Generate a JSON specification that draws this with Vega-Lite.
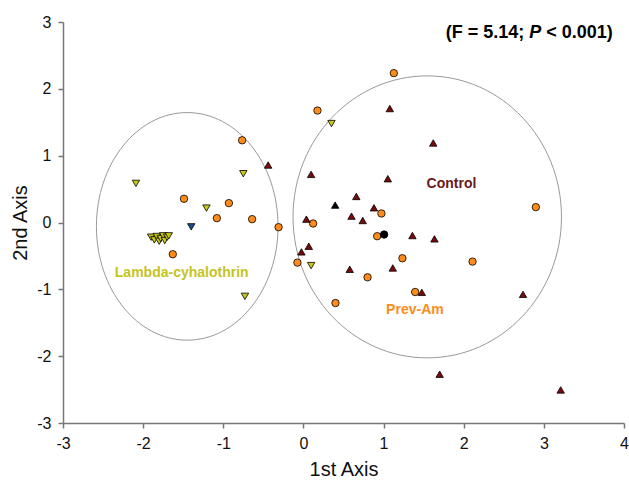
{
  "$schema": "https://vega.github.io/schema/vega-lite/v6.json",
  "width": 561,
  "height": 401,
  "autosize": {"type": "none"},
  "padding": {"left": 63, "top": 22, "right": 5, "bottom": 57},
  "background": "white",
  "config": {
    "view": {"stroke": null},
    "font": "Liberation Sans",
    "axis": {
      "grid": false,
      "domainColor": "#777777",
      "domainWidth": 1.5,
      "tickColor": "#777777",
      "tickWidth": 1.5,
      "tickSize": 5,
      "labelFontSize": 16,
      "labelColor": "#111111",
      "labelFont": "Liberation Sans",
      "titleFont": "Liberation Sans",
      "titleFontSize": 20,
      "titleFontWeight": "normal",
      "titleColor": "#111111",
      "labelPadding": 7,
      "labelExpr": "'' + datum.value"
    }
  },
  "datasets": {
    "points": [
      {"x": -0.765, "y": 1.23, "group": "Prev-Am"},
      {"x": -1.49, "y": 0.355, "group": "Prev-Am"},
      {"x": -0.93, "y": 0.29, "group": "Prev-Am"},
      {"x": -1.08, "y": 0.065, "group": "Prev-Am"},
      {"x": -0.64, "y": 0.05, "group": "Prev-Am"},
      {"x": -0.31, "y": -0.07, "group": "Prev-Am"},
      {"x": -1.63, "y": -0.475, "group": "Prev-Am"},
      {"x": 1.128, "y": 2.235, "group": "Prev-Am"},
      {"x": 0.175, "y": 1.675, "group": "Prev-Am"},
      {"x": 0.973, "y": 0.135, "group": "Prev-Am"},
      {"x": 0.121, "y": -0.015, "group": "Prev-Am"},
      {"x": 0.92, "y": -0.205, "group": "Prev-Am"},
      {"x": -0.075, "y": -0.6, "group": "Prev-Am"},
      {"x": 1.235, "y": -0.535, "group": "Prev-Am"},
      {"x": 2.11, "y": -0.585, "group": "Prev-Am"},
      {"x": 2.9, "y": 0.23, "group": "Prev-Am"},
      {"x": 0.8, "y": -0.82, "group": "Prev-Am"},
      {"x": 1.394, "y": -1.04, "group": "Prev-Am"},
      {"x": 0.4, "y": -1.205, "group": "Prev-Am"},
      {"x": -0.44, "y": 0.86, "group": "Control"},
      {"x": 1.078, "y": 1.705, "group": "Control"},
      {"x": 1.62, "y": 1.19, "group": "Control"},
      {"x": 0.096, "y": 0.72, "group": "Control"},
      {"x": 1.053, "y": 0.655, "group": "Control"},
      {"x": 0.66, "y": 0.39, "group": "Control"},
      {"x": 0.88, "y": 0.22, "group": "Control"},
      {"x": 0.6, "y": 0.095, "group": "Control"},
      {"x": 0.74, "y": 0.03, "group": "Control"},
      {"x": 0.037, "y": 0.05, "group": "Control"},
      {"x": 1.36, "y": -0.195, "group": "Control"},
      {"x": 1.635, "y": -0.245, "group": "Control"},
      {"x": 0.067, "y": -0.355, "group": "Control"},
      {"x": -0.025, "y": -0.44, "group": "Control"},
      {"x": 0.578, "y": -0.7, "group": "Control"},
      {"x": 1.115, "y": -0.68, "group": "Control"},
      {"x": 1.477, "y": -1.045, "group": "Control"},
      {"x": 2.74, "y": -1.075, "group": "Control"},
      {"x": 1.7, "y": -2.27, "group": "Control"},
      {"x": 3.21, "y": -2.505, "group": "Control"},
      {"x": -0.75, "y": 0.73, "group": "Lambda-cyhalothrin"},
      {"x": -2.09, "y": 0.585, "group": "Lambda-cyhalothrin"},
      {"x": -1.21, "y": 0.215, "group": "Lambda-cyhalothrin"},
      {"x": -0.73, "y": -1.105, "group": "Lambda-cyhalothrin"},
      {"x": 0.35, "y": 1.48, "group": "Lambda-cyhalothrin"},
      {"x": 0.096, "y": -0.645, "group": "Lambda-cyhalothrin"},
      {"x": -1.9, "y": -0.22, "group": "Lambda-cyhalothrin"},
      {"x": -1.86, "y": -0.26, "group": "Lambda-cyhalothrin"},
      {"x": -1.83, "y": -0.21, "group": "Lambda-cyhalothrin"},
      {"x": -1.8, "y": -0.28, "group": "Lambda-cyhalothrin"},
      {"x": -1.78, "y": -0.24, "group": "Lambda-cyhalothrin"},
      {"x": -1.75, "y": -0.2, "group": "Lambda-cyhalothrin"},
      {"x": -1.73, "y": -0.27, "group": "Lambda-cyhalothrin"},
      {"x": -1.7, "y": -0.22, "group": "Lambda-cyhalothrin"},
      {"x": -1.68, "y": -0.2, "group": "Lambda-cyhalothrin"},
      {"x": -1.4, "y": -0.065, "group": "Lambda centroid"},
      {"x": 0.396, "y": 0.26, "group": "Control centroid"},
      {"x": 1.007, "y": -0.18, "group": "Prev-Am centroid"}
    ]
  },
  "encoding": {
    "x": {
      "field": "x",
      "type": "quantitative",
      "scale": {"domain": [-3, 4], "nice": false, "zero": false},
      "axis": {"title": "1st Axis", "values": [-3, -2, -1, 0, 1, 2, 3, 4], "titlePadding": 8, "labelFlush": false}
    },
    "y": {
      "field": "y",
      "type": "quantitative",
      "scale": {"domain": [-3, 3], "nice": false, "zero": false},
      "axis": {"title": "2nd Axis", "values": [-3, -2, -1, 0, 1, 2, 3], "titlePadding": 6, "labelFlush": false}
    }
  },
  "layer": [
    {
      "data": {"values": [{"x": -1.45, "y": -0.058}]},
      "mark": {
        "type": "point",
        "filled": false,
        "stroke": "#999999",
        "strokeWidth": 1,
        "opacity": 1,
        "size": 51802,
        "shape": "M -0.798 0 C -0.798 -0.5523 -0.4407 -1 0 -1 C 0.4407 -1 0.798 -0.5523 0.798 0 C 0.798 0.5523 0.4407 1 0 1 C -0.4407 1 -0.798 0.5523 -0.798 0 Z"
      }
    },
    {
      "data": {"values": [{"x": 1.545, "y": 0.084}]},
      "mark": {
        "type": "point",
        "filled": false,
        "stroke": "#999999",
        "strokeWidth": 1,
        "opacity": 1,
        "size": 79524,
        "shape": "M -0.952 0 C -0.952 -0.5523 -0.5258 -1 0 -1 C 0.5258 -1 0.952 -0.5523 0.952 0 C 0.952 0.5523 0.5258 1 0 1 C -0.5258 1 -0.952 0.5523 -0.952 0 Z"
      }
    },
    {
      "data": {"name": "points"},
      "mark": {"type": "point", "filled": true, "stroke": "#000000", "strokeWidth": 0.8, "opacity": 1, "size": 55},
      "encoding": {
        "color": {
          "field": "group",
          "type": "nominal",
          "legend": null,
          "scale": {
            "domain": ["Prev-Am", "Control", "Lambda-cyhalothrin", "Lambda centroid", "Control centroid", "Prev-Am centroid"],
            "range": ["#ff8c1a", "#7a0a0a", "#c8c814", "#1f4e8c", "#000000", "#000000"]
          }
        },
        "shape": {
          "field": "group",
          "type": "nominal",
          "legend": null,
          "scale": {
            "domain": ["Prev-Am", "Control", "Lambda-cyhalothrin", "Lambda centroid", "Control centroid", "Prev-Am centroid"],
            "range": ["circle", "triangle-up", "triangle-down", "triangle-down", "triangle-up", "circle"]
          }
        }
      }
    },
    {
      "data": {"values": [{"x": 1.847, "y": 0.573, "label": "Control"}]},
      "mark": {"type": "text", "font": "Liberation Sans", "fontSize": 14, "fontWeight": "bold", "color": "#6b1a1a", "align": "center", "baseline": "middle"},
      "encoding": {"text": {"field": "label"}}
    },
    {
      "data": {"values": [{"x": 1.391, "y": -1.302, "label": "Prev-Am"}]},
      "mark": {"type": "text", "font": "Liberation Sans", "fontSize": 14, "fontWeight": "bold", "color": "#ff8c1a", "align": "center", "baseline": "middle"},
      "encoding": {"text": {"field": "label"}}
    },
    {
      "data": {"values": [{"x": -1.519, "y": -0.749, "label": "Lambda-cyhalothrin"}]},
      "mark": {"type": "text", "font": "Liberation Sans", "fontSize": 14, "fontWeight": "bold", "color": "#c4c41e", "align": "center", "baseline": "middle"},
      "encoding": {"text": {"field": "label"}}
    },
    {
      "data": {"values": [{"x": 1.776, "y": 2.834, "label": "(F = 5.14;"}, {"x": 3.03, "y": 2.834, "label": "< 0.001)"}]},
      "mark": {"type": "text", "font": "Liberation Sans", "fontSize": 18, "fontWeight": "bold", "color": "#000000", "align": "left", "baseline": "middle"},
      "encoding": {"text": {"field": "label"}}
    },
    {
      "data": {"values": [{"x": 2.818, "y": 2.834, "label": "P"}]},
      "mark": {"type": "text", "font": "Liberation Sans", "fontSize": 18, "fontWeight": "bold", "fontStyle": "italic", "color": "#000000", "align": "left", "baseline": "middle"},
      "encoding": {"text": {"field": "label"}}
    }
  ]
}
